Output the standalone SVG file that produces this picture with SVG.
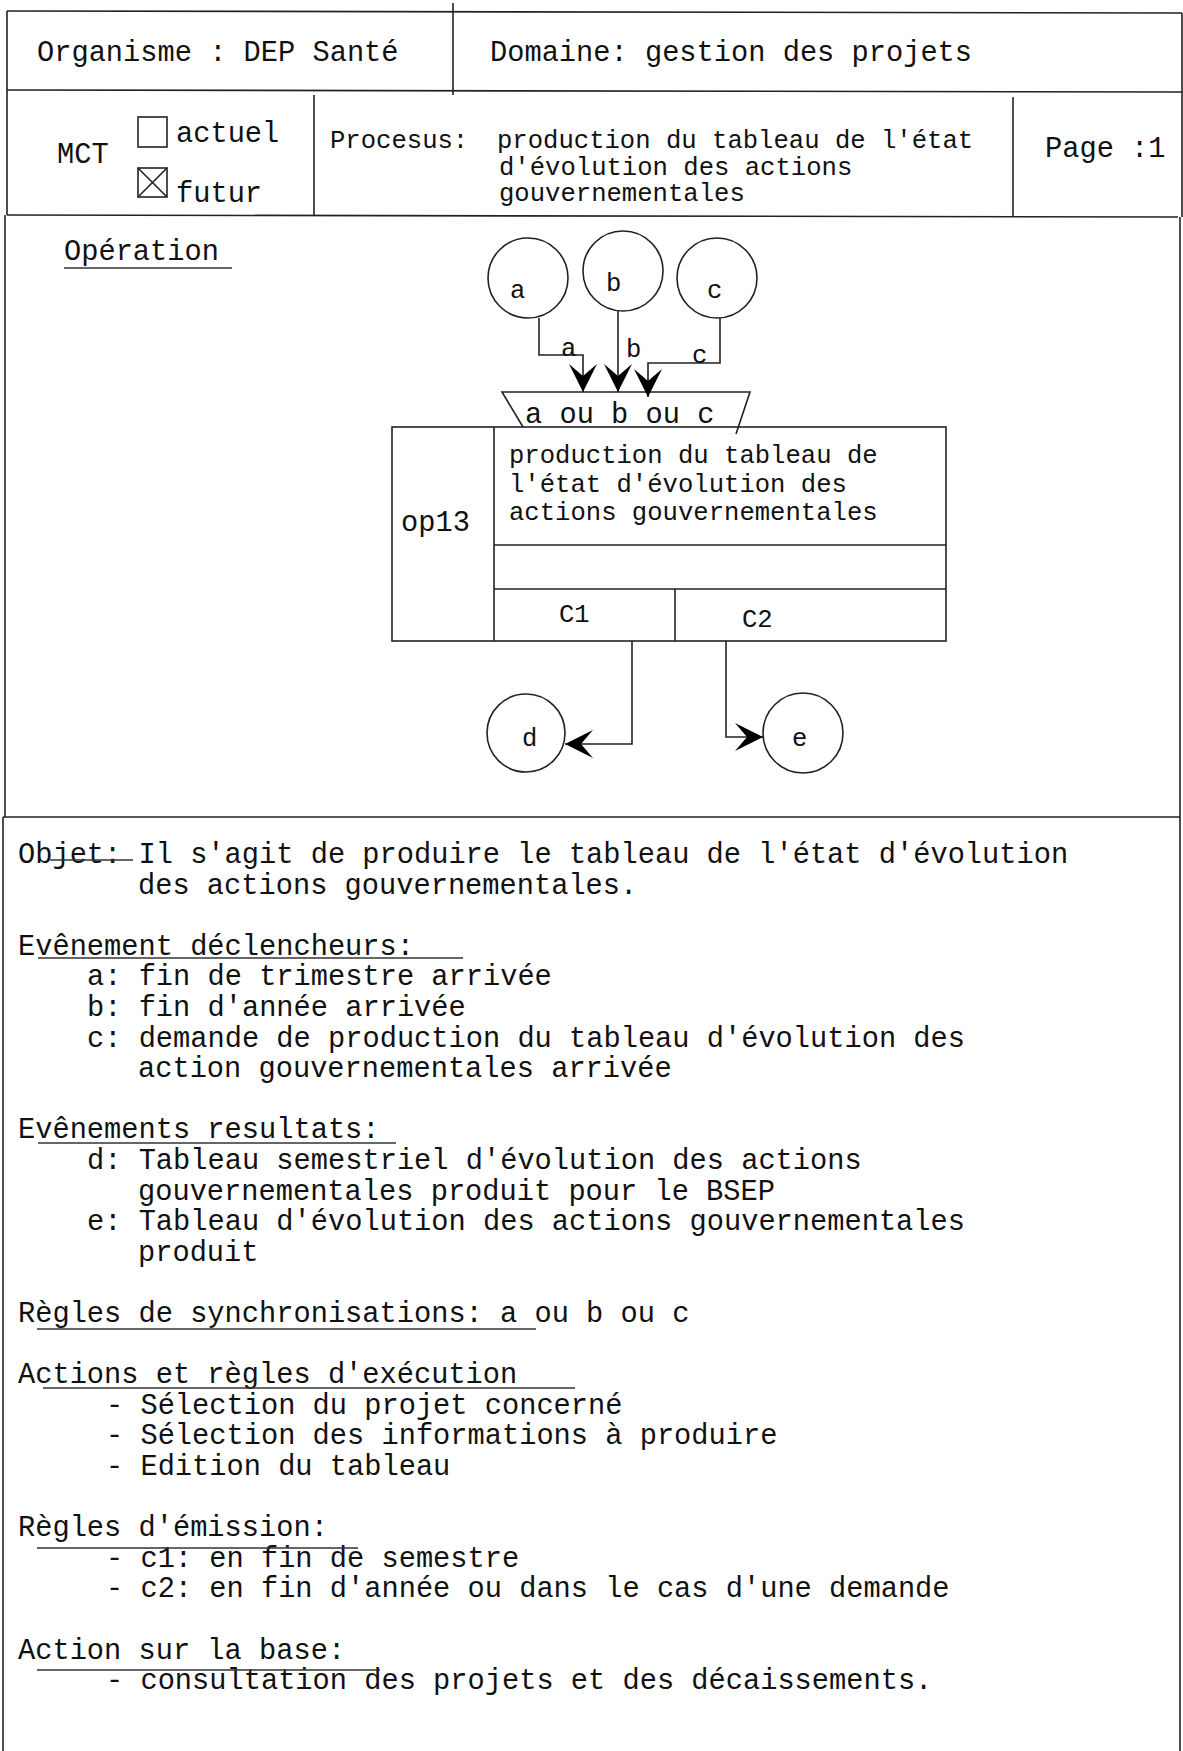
<svg xmlns="http://www.w3.org/2000/svg" width="1183" height="1751" viewBox="0 0 1183 1751">
<style>
  .ln{stroke:#222;stroke-width:1.6;fill:none}
  .t{font-family:"Liberation Mono","Courier New",monospace;fill:#111}
  .big{font-size:28.7px}
  .mid{font-size:25.6px}
  .ul{stroke:#333;stroke-width:1.6}
</style>
<defs>
  <marker id="arr" markerUnits="userSpaceOnUse" viewBox="0 0 28 28" refX="28" refY="14" markerWidth="28" markerHeight="28" orient="auto">
    <path d="M0,0 L28,14 L0,28 L12,14 Z" fill="#000"/>
  </marker>
</defs>
<rect width="1183" height="1751" fill="#fff"/>

<g id="frame" class="ln">
  <path d="M7,11 L1182,13"/>
  <path d="M453,3 V95"/>
  <path d="M7,90 L1182,92"/>
  <path d="M314,95 V215"/>
  <path d="M1013,97 V217"/>
  <path d="M7,215 L1178,217"/>
  <path d="M7,11 V215 M5,215 V817 M3,817 V1751"/>
  <path d="M1182,13 V217 M1180,217 V1751"/>
  <path d="M3,817 L1180,817"/>
</g>

<g id="header">
  <text class="t big" x="37" y="61">Organisme : DEP Santé</text>
  <text class="t big" x="490" y="61">Domaine: gestion des projets</text>
  <text class="t big" x="57" y="163">MCT</text>
  <rect class="ln" x="138" y="117" width="29" height="30"/>
  <text class="t big" x="176" y="142">actuel</text>
  <rect class="ln" x="138" y="168" width="29" height="29"/>
  <path class="ln" d="M138,168 L167,197 M167,168 L138,197"/>
  <text class="t big" x="176" y="202">futur</text>
  <text class="t mid" x="330" y="148">Procesus:</text>
  <text class="t mid" x="497" y="148">production du tableau de l'état</text>
  <text class="t mid" x="499" y="175">d'évolution des actions</text>
  <text class="t mid" x="499" y="201">gouvernementales</text>
  <text class="t big" x="1045" y="157">Page :1</text>
</g>

<g id="operation-title">
  <text class="t big" x="64" y="260">Opération</text>
  <line class="ul" x1="64" y1="268" x2="232" y2="268"/>
</g>

<g id="event-a">
  <circle class="ln" cx="528" cy="278" r="40"/>
  <text class="t mid" x="510" y="298">a</text>
</g>
<g id="event-b">
  <circle class="ln" cx="623" cy="271" r="40"/>
  <text class="t mid" x="606" y="291">b</text>
</g>
<g id="event-c">
  <circle class="ln" cx="717" cy="278" r="40"/>
  <text class="t mid" x="707" y="298">c</text>
</g>

<g id="sync">
  <path class="ln" d="M523,427 L502,392 L750,392 L736,434"/>
  <text class="t big" x="525" y="423">a ou b ou c</text>
</g>

<g id="op13">
  <rect class="ln" x="392" y="427" width="554" height="214"/>
  <path class="ln" d="M494,427 V641 M494,545 H946 M494,589 H946 M675,589 V641"/>
  <text class="t big" x="401" y="531">op13</text>
  <text class="t mid" x="509" y="463">production du tableau de</text>
  <text class="t mid" x="509" y="492">l'état d'évolution des</text>
  <text class="t mid" x="509" y="520">actions gouvernementales</text>
  <text class="t mid" x="559" y="622">C1</text>
  <text class="t mid" x="742" y="627">C2</text>
</g>

<g id="result-d">
  <circle class="ln" cx="526" cy="733" r="39"/>
  <text class="t mid" x="522" y="746">d</text>
</g>
<g id="result-e">
  <circle class="ln" cx="803" cy="733" r="40"/>
  <text class="t mid" x="792" y="746">e</text>
</g>

<g id="connectors">
  <path class="ln" d="M539,318 V355 H583 V392" marker-end="url(#arr)"/>
  <path class="ln" d="M618,311 V392" marker-end="url(#arr)"/>
  <path class="ln" d="M720,318 V363 H648 V397" marker-end="url(#arr)"/>
  <path class="ln" d="M632,641 V744 H565" marker-end="url(#arr)"/>
  <path class="ln" d="M726,641 V737 H763" marker-end="url(#arr)"/>
  <text class="t mid" x="561" y="356">a</text>
  <text class="t mid" x="626" y="357">b</text>
  <text class="t mid" x="692" y="363">c</text>
</g>

<g id="description" class="t big">
  <text x="18" y="863">Objet: Il s'agit de produire le tableau de l'état d'évolution</text>
  <text x="138" y="894">des actions gouvernementales.</text>
  <text x="18" y="955">Evênement déclencheurs:</text>
  <text x="87" y="985">a: fin de trimestre arrivée</text>
  <text x="87" y="1016">b: fin d'année arrivée</text>
  <text x="87" y="1047">c: demande de production du tableau d'évolution des</text>
  <text x="138" y="1077">action gouvernementales arrivée</text>
  <text x="18" y="1138">Evênements resultats:</text>
  <text x="87" y="1169">d: Tableau semestriel d'évolution des actions</text>
  <text x="138" y="1200">gouvernementales produit pour le BSEP</text>
  <text x="87" y="1230">e: Tableau d'évolution des actions gouvernementales</text>
  <text x="138" y="1261">produit</text>
  <text x="18" y="1322">Règles de synchronisations: a ou b ou c</text>
  <text x="18" y="1383">Actions et règles d'exécution</text>
  <text x="106" y="1414">- Sélection du projet concerné</text>
  <text x="106" y="1444">- Sélection des informations à produire</text>
  <text x="106" y="1475">- Edition du tableau</text>
  <text x="18" y="1536">Règles d'émission:</text>
  <text x="106" y="1567">- c1: en fin de semestre</text>
  <text x="106" y="1597">- c2: en fin d'année ou dans le cas d'une demande</text>
  <text x="18" y="1659">Action sur la base:</text>
  <text x="106" y="1689">- consultation des projets et des décaissements.</text>
</g>

<g id="underlines" class="ul">
  <line x1="50" y1="860" x2="133" y2="860"/>
  <line x1="38" y1="958" x2="463" y2="958"/>
  <line x1="38" y1="1143" x2="396" y2="1143"/>
  <line x1="37" y1="1329" x2="536" y2="1329"/>
  <line x1="43" y1="1388" x2="575" y2="1388"/>
  <line x1="37" y1="1548" x2="358" y2="1548"/>
  <line x1="37" y1="1670" x2="380" y2="1670"/>
</g>
</svg>
